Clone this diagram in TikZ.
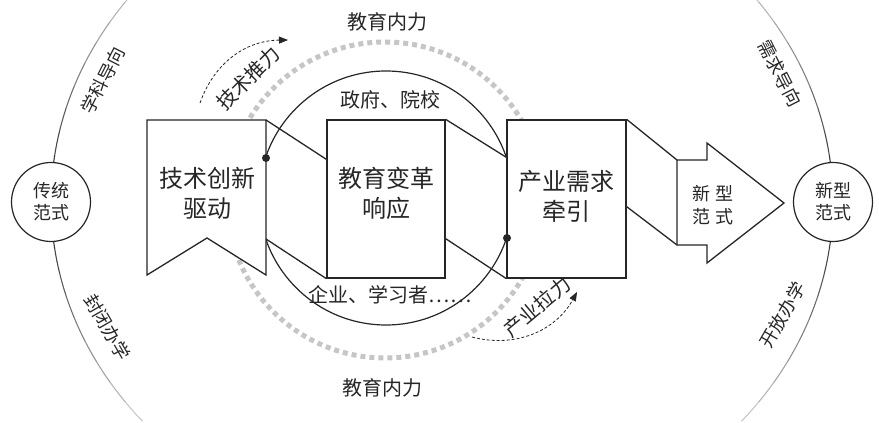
\documentclass[tikz,border=0pt]{standalone}
\usepackage{fontspec}
\setmainfont{Noto Sans CJK SC}
\usetikzlibrary{arrows.meta,calc}
\definecolor{figInk}{RGB}{38,38,38}
\definecolor{figDot}{RGB}{198,198,198}

\begin{document}
\begin{tikzpicture}[x=1pt,y=1pt,
  blk/.style={draw=figInk, fill=white, line width=1.3pt},
  ring/.style={draw=figInk, fill=white, line width=1.2pt, circle,
               minimum size=79pt, inner sep=0pt, align=center, text=figInk,
               font=\fontsize{18}{22}\selectfont},
  big/.style={font=\fontsize{24}{30}\selectfont, align=center, text=figInk},
  lbl/.style={font=\fontsize{20}{24}\selectfont, text=figInk},
  side/.style={font=\fontsize{18}{20}\selectfont, text=figInk},
  dot/.style={circle, fill=figInk, inner sep=0pt, minimum size=8pt},
  push/.style={-{Triangle[length=9pt,width=7pt]}, dash pattern=on 3pt off 2pt,
               line width=0.8pt, figInk},
  dotring/.style={draw=figDot, line width=5pt, dash pattern=on 5pt off 4pt}
]
\useasboundingbox (0,0) rectangle (879,423);
% outer arcs, fading away from the two paradigms
\foreach \s/\d in {180/-4,180/4,0/4,0/-4}
  \foreach \i in {0,...,9}{
    \pgfmathsetmacro\a{\s+\d*\i}
    \pgfmathtruncatemacro\g{85-7*\i}
    \draw[black!\g, line width=1.1pt] (442,221) ++(\a:391pt and 341pt)
      arc[start angle=\a, delta angle=\d, x radius=391pt, y radius=341pt];
  }
\draw[dotring] (385,223) circle[radius=158pt];
\draw[figInk, line width=1.2pt] (386,225) circle[radius=127pt];

% boxes
\draw[blk] (147,303) -- (266,303) -- (266,148) -- (207,185) -- (147,148) -- cycle;
\coordinate (b1t) at (266,303);
\coordinate (b1m) at (266,184);
\node[blk, minimum width=118pt, minimum height=158pt] (B2) at (386,224) {};
\node[blk, minimum width=119pt, minimum height=158pt] (B3) at (566.5,224) {};
\draw[blk] (677,263) -- (707,263) -- (707,280) -- (784,220) -- (707,160)
  -- (707,178) -- (677,178) -- cycle;
\coordinate (a1) at (677,263);
\coordinate (a2) at (677,178);

% folds between the boxes
\draw[blk] (b1t) -- ([yshift=-40pt]B2.north west);
\draw[blk] (b1m) -- (B2.south west);
\draw[blk] (B2.north east) -- ([yshift=-38pt]B3.north west);
\draw[blk] ([yshift=40pt]B2.south east) -- (B3.south west);
\draw[blk] (B3.north east) -- (a1);
\draw[blk] ([yshift=72pt]B3.south east) -- (a2);

\node[dot] (D1) at (266,265) {};
\node[dot] (D2) at (507,185) {};

% texts
\node[big] (T1) at (207,230) {技术创新\\驱动};
\node[big] (T2) at (386,230) {教育变革\\响应};
\node[big] (T3) at (566,227) {产业需求\\牵引};
\node[align=center, text=figInk, font=\fontsize{18}{23}\selectfont] (T4)
  at (713,218) {新\hspace{5pt}型\\范\hspace{5pt}式};
\node[ring] (Old) at (51,221) {传统\\范式};
\node[ring] (New) at (833,221) {新型\\范式};

\node[lbl] (F1) at (387,401) {教育内力};
\node[lbl] (F2) at (382,35) {教育内力};
\node[lbl] (G1) at (390,323) {政府、院校};
\node[lbl] (G2) at (390,128) {企业、学习者……};

\node[side, rotate=63] (S1) at (103,343) {学科导向};
\node[side, rotate=-63] (S2) at (780,350) {需求导向};
\node[side, rotate=-60] (S3) at (107,96) {封闭办学};
\node[side, rotate=60] (S4) at (783,108) {开放办学};
\node[lbl, rotate=45] (P1) at (248,345) {技术推力};
\node[lbl, rotate=40] (P2) at (537,116) {产业拉力};

\coordinate (p1s) at (200,320);
\coordinate (p1e) at (288,383);
\coordinate (p2s) at (472,86);
\coordinate (p2e) at (577,131);
\draw[push] (p1s) to[bend left=35] (p1e);
\draw[push] (p2s) to[bend right=38] (p2e);
\end{tikzpicture}
\end{document}
